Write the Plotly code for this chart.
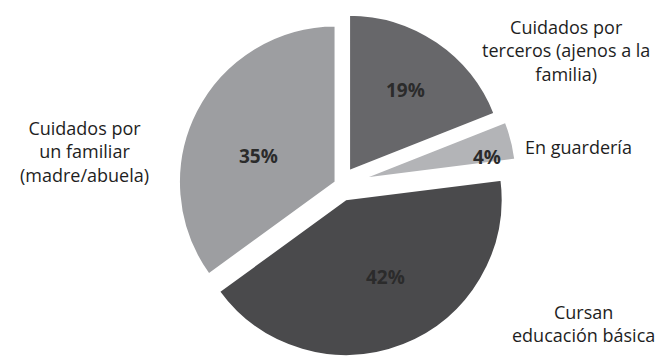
import plotly.graph_objects as go

categories = ["Cuidados por terceros (ajenos a la familia)", "En guardería",
              "Cursan educación básica", "Cuidados por un familiar (madre/abuela)"]
values = [19, 4, 42, 35]
pulls = [0.10, 0.13, 0.10, 0.03]
colors = ["#67676a", "#b3b4b7", "#4a4a4c", "#9d9ea1"]
label_texts = ["Cuidados por<br>terceros (ajenos a la<br>familia)",
               "En guardería",
               "Cursan<br>educación básica",
               "Cuidados por<br>un familiar<br>(madre/abuela)"]

W, H = 657, 362
MT, MB = 7, 0

def px(x):
    return x / W

def py(y):
    return 1 - (y - MT) / (H - MT - MB)

fig = go.Figure(go.Pie(
    labels=categories, values=values, pull=pulls, sort=False,
    direction="clockwise", rotation=0, textinfo="none", hoverinfo="label+percent",
    marker=dict(colors=colors, line=dict(color="white", width=2.5)),
    domain=dict(x=[0.24, 0.795], y=[0, 1]), showlegend=False,
))

pct_pos = [(405, 90), (487, 157), (385, 277), (258, 156)]
label_pos = [(566, 50, "center"), (523, 147, "left"), (583, 323, "center"), (84, 151, "center")]

ann = []
for v, (x, y) in zip(values, pct_pos):
    ann.append(dict(x=px(x), y=py(y), xref="paper", yref="paper", text=f"<b>{v}%</b>",
                    xanchor="center", yanchor="middle", showarrow=False,
                    font=dict(size=19, color="#2b2b2b", family="Open Sans")))
for t, (x, y, al) in zip(label_texts, label_pos):
    ann.append(dict(x=px(x), y=py(y), xref="paper", yref="paper", text=t, align="center",
                    xanchor=al, yanchor="middle", showarrow=False,
                    font=dict(size=18, color="#1e1e1e", family="Open Sans")))

fig.update_layout(width=W, height=H, margin=dict(l=0, r=0, t=MT, b=MB),
                  paper_bgcolor="white", plot_bgcolor="white", annotations=ann)
fig.write_html("out.html", config={"displayModeBar": False},
               post_script="document.body.style.margin='0';document.body.style.padding='0';")
